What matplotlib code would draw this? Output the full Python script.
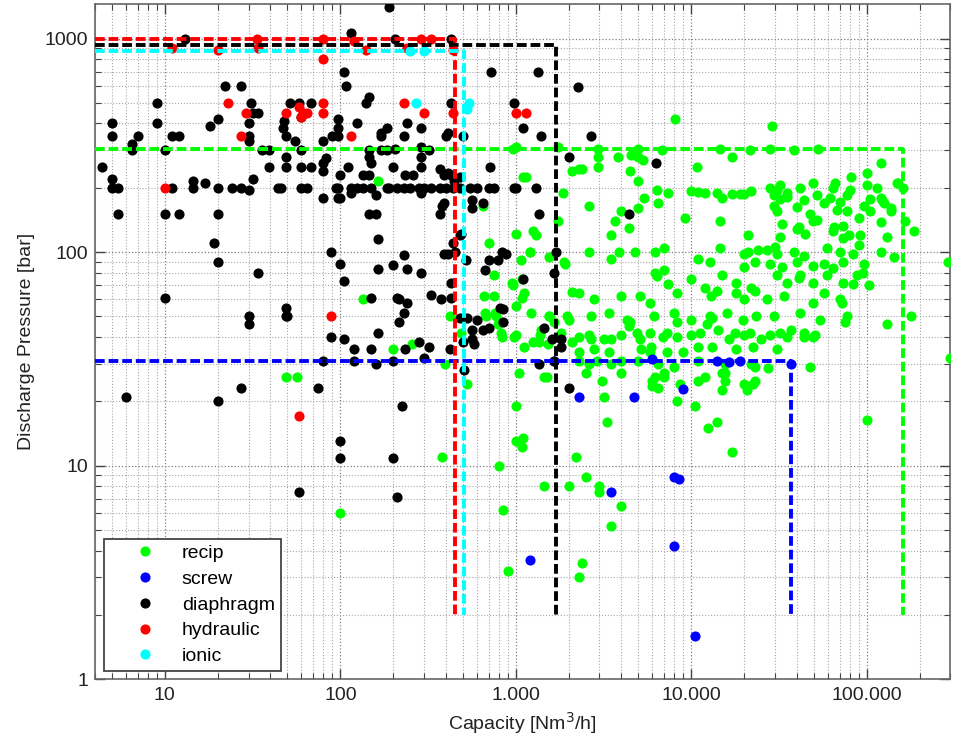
import matplotlib
matplotlib.use('Agg')
import matplotlib.pyplot as plt
from matplotlib.ticker import LogLocator, FuncFormatter, NullFormatter

plt.rcParams['font.family'] = ['Liberation Sans', 'DejaVu Sans']

# capacity [Nm3/h], discharge pressure [bar]
recip_pts = [
    (8100, 420), (29000, 390), (290000, 90), (300000, 32),
    (165, 215), (135, 60), (200, 35), (255, 37), (395, 30), (49, 26), (57, 26),
    (100, 6), (380, 11), (420, 50), (485, 42), (530, 24), (650, 165),
    (1000, 310), (1750, 310), (2100, 240), (1850, 190), (1750, 140),
    (700, 110), (1000, 122), (750, 62), (670, 52), (760, 52), (790, 46), (830, 40),
    (1200, 100), (1250, 125), (1300, 120), (1550, 95), (960, 70), (1000, 56), (1080, 61),
    (1550, 50), (1380, 41), (1650, 47), (1950, 50), (2100, 65), (1900, 88),
    (1350, 38), (1250, 38), (1000, 41), (1450, 26), (1000, 19), (2100, 38),
    (800, 10), (1000, 13), (1100, 13.5), (1080, 12.2), (850, 6.2), (1450, 8), (2000, 8),
    (2200, 11), (2500, 8.8), (3000, 8), (3000, 7.5), (4000, 6.5), (3500, 5.2), (3300, 16),
    (2400, 3.5), (2300, 3), (900, 3.2), (1050, 27), (1500, 26), (3200, 21),
    (6200, 26), (7000, 26), (6000, 23.5), (6500, 23), (8300, 20), (10500, 19),
    (12000, 26), (15000, 27), (15500, 27), (15000, 22.5), (20900, 22.5), (22600, 24),
    (12500, 15), (14000, 16), (17000, 11.6), (100000, 16.4),
    (960, 305), (2960, 305), (5000, 305), (6840, 300), (14600, 305), (21700, 300),
    (28200, 305), (38500, 300), (52500, 305),
    (2960, 280), (3840, 280), (4520, 285), (5000, 280), (5330, 270), (17140, 280),
    (10800, 250), (2960, 250), (2300, 245), (2400, 245), (4500, 240), (5000, 215),
    (1100, 225), (1150, 225), (120000, 260), (101000, 235), (81000, 225),
    (66000, 210), (150000, 210), (123000, 175), (137000, 155), (91000, 145), (165000, 140),
    (28200, 200), (30800, 195), (32200, 205), (35100, 190), (41900, 200), (49600, 210),
    (64500, 200), (80700, 195), (101000, 205), (115000, 200), (149000, 210), (162000, 200),
    (29500, 185), (32200, 178), (35100, 182), (43700, 175), (52000, 185), (62000, 180),
    (70800, 172), (77300, 185), (105000, 178), (120000, 180),
    (29500, 165), (30800, 155), (40100, 162), (47700, 150), (56800, 170), (67800, 158),
    (77300, 155), (96000, 165), (105000, 155), (125000, 170), (137000, 160),
    (32900, 135), (40100, 128), (44700, 122), (49600, 140), (64500, 125), (73700, 132),
    (92000, 120), (120000, 138), (131000, 118), (186000, 125),
    (41000, 131), (52000, 141), (65000, 131), (79000, 120), (90000, 108), (73000, 117),
    (32000, 118), (30000, 106),
    (1210, 100), (27000, 102), (30800, 98), (38500, 100), (43700, 96), (59500, 104),
    (70800, 100), (84000, 98), (120000, 100), (143000, 95),
    (1068, 92), (1880, 90), (28200, 88), (32900, 85), (40100, 90), (49600, 86),
    (56800, 88), (64500, 84), (73700, 90), (96000, 88),
    (750, 78), (957, 72), (1090, 75), (30800, 78), (35100, 72), (41900, 78), (49600, 72),
    (59500, 78), (73700, 72), (88000, 78), (103000, 70),
    (41000, 76), (84000, 71), (95000, 80), (72500, 58),
    (660, 62), (1115, 64), (27000, 60), (33600, 62), (49600, 58), (56800, 64), (70800, 60),
    (680, 50), (770, 50), (1218, 52), (1550, 50), (2020, 48), (29500, 50), (41900, 52),
    (54400, 48), (77300, 50), (131000, 46), (178000, 50),
    (2680, 50), (3400, 52), (4330, 48), (6140, 50), (7980, 52), (9930, 48), (12800, 50),
    (15900, 52), (19800, 48), (23500, 50),
    (820, 42), (980, 40), (1390, 43), (1800, 42), (28200, 41), (35100, 40), (43700, 42),
    (49600, 40), (4920, 42), (7290, 42), (11250, 42), (17800, 42),
    (32000, 42), (37000, 43), (44000, 40), (51000, 41), (75000, 47), (27500, 28.5), (47700, 29),
    (1115, 36), (1530, 37), (30800, 35),
    (6400, 195), (7400, 190), (10000, 193), (11000, 192), (12000, 190), (14000, 190),
    (17000, 188), (19000, 188), (20000, 187), (22000, 193),
    (5400, 180), (6500, 170), (9200, 145), (5000, 160), (4000, 155), (3700, 140),
    (4400, 130), (3500, 120), (2600, 165), (15000, 180), (14500, 140), (21000, 120),
    (2600, 100), (3500, 93), (3900, 100), (4800, 100), (6200, 100), (7000, 105),
    (11000, 93), (12800, 90), (14500, 105), (20000, 98), (21000, 100), (24000, 102),
    (20000, 85), (23000, 90),
    (6200, 80), (7000, 82), (7400, 71), (6400, 77), (10000, 75), (12000, 68), (13000, 62),
    (14000, 66), (15000, 78), (18000, 72), (22000, 68), (23000, 66), (2300, 64), (2800, 60),
    (4000, 62), (5100, 62), (5800, 58), (8300, 64), (18000, 64), (20000, 60),
    (2300, 40), (2600, 41), (2700, 39), (3200, 39), (3500, 39), (4000, 41), (4400, 45),
    (4500, 47), (5100, 39), (5800, 42), (5900, 36), (6900, 40), (8300, 47), (8300, 40),
    (10000, 41), (11000, 36), (12300, 46), (13200, 49), (13200, 36), (14300, 43),
    (16500, 39), (18000, 35), (20000, 41), (21500, 42), (22500, 36), (25000, 39),
    (2300, 34), (2800, 35), (3400, 34), (5200, 35), (5800, 34), (7300, 34), (9000, 34),
    (2300, 31), (2600, 30), (2900, 31), (3500, 30), (4000, 31), (5000, 31), (6500, 30),
    (8000, 29), (11000, 31), (15500, 30), (22000, 30), (23000, 29),
    (2500, 27), (3100, 25), (4000, 27), (6000, 25), (7000, 27), (8600, 24), (11000, 25),
    (15500, 25), (20000, 24), (23000, 25),
]

screw_pts = [
    (2300, 21), (4700, 21), (9000, 22.8), (3500, 7.5), (1200, 3.6), (8000, 8.8),
    (8500, 8.7), (8000, 4.2), (10500, 1.6), (1650, 31), (6000, 31.5), (14000, 31),
    (16500, 30.5), (19000, 31), (37000, 30),
]

diaphragm_pts = [
    (13, 1000), (115, 1060), (190, 1400), (205, 1000), (430, 990),
    (22, 600), (27, 600), (9, 500), (9, 400), (5, 400), (5, 350), (7, 350), (6.5, 320),
    (6.5, 300), (4.4, 250), (5, 220), (5, 200), (5.4, 200), (5.4, 150), (11, 200),
    (10, 150), (12, 150), (10, 300), (11, 350), (12, 350), (14.5, 215), (14.5, 200),
    (17, 210), (20, 200), (20, 150), (18, 390), (20, 420), (30, 350), (30, 330),
    (24, 200), (27, 200), (30, 195), (31, 500), (32, 450), (34, 450), (30, 400),
    (32, 220), (36, 300), (39, 300), (39, 250), (44, 200), (46, 200), (49, 250),
    (49, 280), (47, 380), (48, 410), (49, 350), (52, 500), (55, 330), (58, 500),
    (60, 430), (68, 500), (60, 300), (60, 250), (68, 250), (60, 200), (65, 200),
    (80, 330), (80, 260), (80, 240), (80, 180), (83, 275), (90, 350),
    (105, 700), (108, 600), (145, 530), (140, 500), (720, 700), (1330, 700), (980, 500),
    (1100, 380), (1400, 350), (430, 500), (97, 420), (97, 380), (97, 350), (125, 400),
    (185, 380), (170, 360), (170, 350), (240, 400), (230, 350), (290, 380), (290, 310),
    (290, 280), (410, 360), (400, 350), (500, 350), (145, 300), (145, 280), (150, 260),
    (170, 300), (185, 300), (205, 305), (320, 300), (110, 250), (135, 230), (145, 230),
    (200, 250), (235, 230), (260, 230), (290, 250), (370, 245), (390, 230), (410, 235),
    (430, 230), (445, 215), (480, 225), (710, 250), (100, 230), (100, 180),
    (94, 200), (97, 200), (115, 200), (125, 200), (135, 200), (150, 200), (185, 200),
    (190, 200), (210, 200), (230, 200), (250, 200), (280, 200), (300, 200), (330, 200),
    (370, 200), (400, 200), (440, 200), (480, 200), (550, 200), (600, 200), (700, 200),
    (750, 200), (980, 200), (1000, 200), (1300, 200),
    (97, 180), (115, 190), (160, 185), (145, 150), (160, 150), (290, 190), (390, 170),
    (380, 165), (370, 150), (560, 175), (560, 160), (1350, 150), (650, 170), (4400, 150),
    (2250, 590), (2700, 350), (2000, 280), (6300, 262),
    (19, 110), (20, 90), (34, 80), (10, 61), (30, 50), (30, 46), (49, 55), (49, 50),
    (50, 50), (88, 40), (88, 100), (80, 31), (27, 23), (6, 21), (20, 20), (75, 23),
    (225, 19), (100, 13), (100, 10.8), (200, 10.8), (58, 7.5), (210, 7.1),
    (165, 115), (390, 98), (410, 98), (440, 110), (450, 100), (230, 97), (100, 88),
    (165, 83), (200, 87), (240, 83), (290, 80), (105, 73), (425, 72), (150, 61),
    (210, 61), (215, 60), (240, 58), (330, 63), (375, 60), (425, 61), (230, 52),
    (215, 47), (165, 42), (105, 39), (120, 35), (150, 35), (235, 35), (280, 38),
    (320, 36), (420, 35), (120, 31), (160, 30), (200, 31), (300, 32),
    (480, 120), (490, 122), (520, 92), (480, 49), (530, 49), (600, 48), (560, 43),
    (500, 38), (560, 39), (580, 37), (510, 28), (670, 82), (700, 92), (790, 92),
    (840, 100), (880, 98), (810, 55), (850, 54), (850, 47), (700, 44), (1100, 75),
    (1450, 44), (1600, 39), (1800, 39), (1650, 80), (1700, 100), (1350, 30), (2000, 23),
    (1650, 31), (1800, 36), (650, 43),
]

hydraulic_pts = [
    (11, 900), (33.5, 1000), (34, 900), (20, 880), (80, 1000), (80, 800), (23, 500),
    (27, 350), (29, 450), (49, 450), (58, 480), (61, 450), (60, 430), (65, 450),
    (80, 500), (80, 450), (10, 200), (88, 50), (58, 17), (115, 350), (120, 970),
    (140, 880), (240, 900), (290, 990), (330, 1000), (440, 880), (230, 500), (300, 450),
    (440, 450), (1000, 450), (1150, 450),
]

ionic_pts = [(270, 500), (540, 500), (530, 470), (250, 870), (300, 870)]

series_names = ['recip', 'screw', 'diaphragm', 'hydraulic', 'ionic']
series_pts = [recip_pts, screw_pts, diaphragm_pts, hydraulic_pts, ionic_pts]
series_colors = ['#00ff00', '#0000ff', '#000000', '#ff0000', '#00ffff']

# application envelopes: max pressure, max capacity (down to 2 bar)
env_pmax = [305, 31, 930, 1000, 870]
env_qmax = [160000, 37000, 1700, 450, 510]
env_pmin = 2

xmin, xmax = 4, 300000
ymin, ymax = 1, 1450

fig = plt.figure(figsize=(9.6, 7.39), dpi=100)
ax = fig.add_axes([0.099, 0.081, 0.891, 0.9135])

for name, pts, c in zip(series_names, series_pts, series_colors):
    xs = [p[0] for p in pts]
    ys = [p[1] for p in pts]
    ax.plot(xs, ys, 'o', ls='none', ms=7.3, mew=0, color=c, label=name, zorder=3)

for p, q, c in zip(env_pmax, env_qmax, series_colors):
    ax.plot([xmin, q, q], [p, p, env_pmin], ls=(0, (2.5, 1.0)), lw=2.8, color=c, zorder=4)

ax.set_xscale('log')
ax.set_yscale('log')
ax.set_xlim(xmin, xmax)
ax.set_ylim(ymin, ymax)

ax.xaxis.set_major_locator(LogLocator(base=10))
ax.xaxis.set_minor_locator(LogLocator(base=10, subs=range(2, 10)))
ax.yaxis.set_major_locator(LogLocator(base=10))
ax.yaxis.set_minor_locator(LogLocator(base=10, subs=range(2, 10)))
ax.xaxis.set_major_formatter(FuncFormatter(lambda v, pos: '{:,}'.format(int(round(v))).replace(',', '.')))
ax.yaxis.set_major_formatter(FuncFormatter(lambda v, pos: '%d' % int(round(v))))
ax.xaxis.set_minor_formatter(NullFormatter())
ax.yaxis.set_minor_formatter(NullFormatter())

ax.grid(True, which='major', ls=':', lw=0.9, color='#808080')
ax.grid(True, which='minor', ls=':', lw=0.8, color='#a8a8a8')
ax.set_axisbelow(True)

ax.tick_params(which='both', direction='in', top=True, right=True, colors='#444444',
               labelcolor='#222222', labelsize=14)
ax.tick_params(which='major', length=7, width=1)
ax.tick_params(which='minor', length=4, width=0.8)
ax.tick_params(axis='x', pad=6)
ax.tick_params(axis='y', pad=5)
for s in ax.spines.values():
    s.set_color('#666666')
    s.set_linewidth(1.2)

ax.set_xlabel('Capacity [Nm$^3$/h]', fontsize=14, color='#222222', labelpad=4)
ax.set_ylabel('Discharge Pressure [bar]', fontsize=14, color='#222222', labelpad=7)

leg = ax.legend(loc='lower left', bbox_to_anchor=(0.0105, 0.012), borderaxespad=0,
                fontsize=14, frameon=True, fancybox=False, framealpha=1,
                edgecolor='#444444', handlelength=3.6, handletextpad=0.1,
                borderpad=0.3, labelspacing=0.42, numpoints=1)
leg.get_frame().set_linewidth(1.3)
leg.set_zorder(10)

fig.savefig('out.png', dpi=100)
